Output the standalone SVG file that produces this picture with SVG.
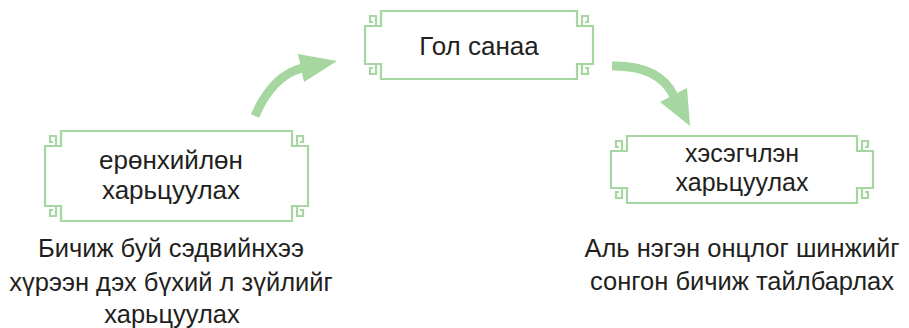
<svg xmlns="http://www.w3.org/2000/svg" width="909" height="328" viewBox="0 0 909 328">
<style>
.fr{fill:#fff;stroke:#a6d7a0;stroke-width:2.2}
.kn{fill:none;stroke:#a6d7a0;stroke-width:2.2}
.bt{font-family:"Liberation Sans",Arial,sans-serif;font-size:26px;fill:#231f20;text-anchor:middle}
.bs{font-family:"Liberation Sans",Arial,sans-serif;font-size:25px;fill:#231f20;text-anchor:middle}
.lt{font-family:"Liberation Sans",Arial,sans-serif;font-size:25.5px;fill:#231f20;text-anchor:middle}
.ar{fill:none;stroke:#a6d7a0;stroke-width:9}
.ah{fill:#a6d7a0}
</style>
<defs>
<path id="k" class="kn" d="M11,15 V5 H5 V11 H8"/>
</defs>
<rect width="909" height="328" fill="#fff"/>
<g id="connectors">
<path class="ar" d="M255,116 Q272,76 302,68"/>
<polygon class="ah" points="298,54 337,61 304,82"/>
<path class="ar" d="M612,66 Q659,65 674,96"/>
<polygon class="ah" points="660,102 687,88 690,126"/>
</g>
<g id="node-main">
<path class="fr" d="M381,11 H577 V26 H593 V64 H577 V79 H381 V64 H365 V26 H381 Z"/>
<use href="#k" transform="translate(365,11)"/>
<use href="#k" transform="translate(593,11) scale(-1,1)"/>
<use href="#k" transform="translate(365,79) scale(1,-1)"/>
<use href="#k" transform="translate(593,79) scale(-1,-1)"/>
<text class="bt" x="479" y="55">Гол санаа</text>
</g>
<g id="node-general">
<path class="fr" d="M61,131 H292 V146 H308 V206 H292 V221 H61 V206 H45 V146 H61 Z"/>
<use href="#k" transform="translate(45,131)"/>
<use href="#k" transform="translate(308,131) scale(-1,1)"/>
<use href="#k" transform="translate(45,221) scale(1,-1)"/>
<use href="#k" transform="translate(308,221) scale(-1,-1)"/>
<text class="bt" x="171" y="169">ерөнхийлөн</text>
<text class="bt" x="171" y="199">харьцуулах</text>
</g>
<g id="node-detail">
<path class="fr" d="M627,136 H857 V151 H873 V188 H857 V203 H627 V188 H611 V151 H627 Z"/>
<use href="#k" transform="translate(611,136)"/>
<use href="#k" transform="translate(873,136) scale(-1,1)"/>
<use href="#k" transform="translate(611,203) scale(1,-1)"/>
<use href="#k" transform="translate(873,203) scale(-1,-1)"/>
<text class="bs" x="742" y="162">хэсэгчлэн</text>
<text class="bs" x="742" y="191">харьцуулах</text>
</g>
<g id="caption-left">
<text class="lt" x="171" y="257">Бичиж буй сэдвийнхээ</text>
<text class="lt" x="171" y="291">хүрээн дэх бүхий л зүйлийг</text>
<text class="lt" x="172" y="323">харьцуулах</text>
</g>
<g id="caption-right">
<text class="lt" x="742" y="257">Аль нэгэн онцлог шинжийг</text>
<text class="lt" x="742" y="290">сонгон бичиж тайлбарлах</text>
</g>
</svg>
